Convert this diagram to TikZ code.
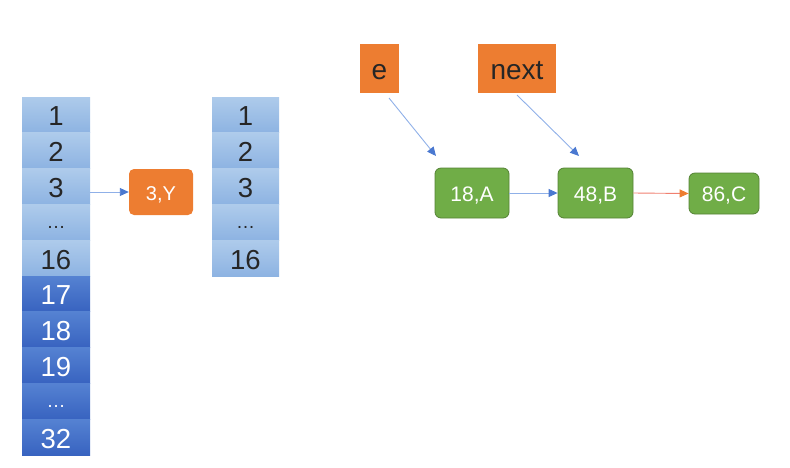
\documentclass[tikz,border=0pt]{standalone}
\usepackage{fontspec}
\setmainfont{Liberation Sans}
\usetikzlibrary{arrows.meta}
\definecolor{lbtop}{HTML}{AECBEB}
\definecolor{lbbot}{HTML}{8DB3E2}
\definecolor{dbtop}{HTML}{5582D2}
\definecolor{dbbot}{HTML}{3863C0}
\definecolor{orng}{HTML}{ED7D31}
\definecolor{grn}{HTML}{70AD47}
\definecolor{grnd}{HTML}{548235}
\definecolor{arrblue}{HTML}{4A78D0}
\definecolor{lineblue}{HTML}{8FB0E8}
\definecolor{redline}{HTML}{F08070}
\newcommand{\celldots}{{\fontsize{19}{19}\selectfont\raisebox{5pt}{\dots}}}
\tikzset{
  lcell/.style={minimum width=68pt, minimum height=35.8pt, inner sep=0pt, top color=lbtop, bottom color=lbbot, text=black!85, font=\fontsize{27.5}{27.5}\selectfont, text height=27.5pt, text depth=5.5pt},
  rcell/.style={lcell, minimum width=67pt},
  dcell/.style={lcell, top color=dbtop, bottom color=dbbot, text=white},
  obox/.style={fill=orng, inner sep=0pt, text=black!85, font=\fontsize{28}{28}\selectfont, text height=28pt, text depth=5.6pt},
  ybox/.style={fill=orng, rounded corners=5pt, inner sep=0pt, minimum width=64pt, minimum height=46pt, text=white, font=\fontsize{20}{20}\selectfont, text height=20pt, text depth=4pt},
  gbox/.style={fill=grn, draw=grnd, line width=0.8pt, rounded corners=6pt, inner sep=0pt, minimum height=50pt, text=white, font=\fontsize{21}{21}\selectfont, text height=21pt, text depth=4.2pt},
  barr/.style={draw=lineblue, line width=0.9pt, -{Triangle[length=9pt,width=8pt,fill=arrblue,color=arrblue]}},
  oarr/.style={draw=redline, line width=0.9pt, -{Triangle[length=9pt,width=8pt,fill=orng,color=orng]}}
}
\begin{document}
\begin{tikzpicture}[x=1pt,y=-1pt]
\useasboundingbox (0,0) rectangle (790,467);
% left column
\foreach \t [count=\i] in {1,2,3,\celldots,16}
  \node[lcell] (a\i) at (56, {97+35.8*(\i-0.5)}) {\t};
\foreach \t [count=\i from 6] in {17,18,19,\celldots,32}
  \node[dcell] (a\i) at (56, {97+35.8*(\i-0.5)}) {\t};
% right column
\foreach \t [count=\i] in {1,2,3,\celldots,16}
  \node[rcell] (b\i) at (245.5, {97+35.8*(\i-0.5)}) {\t};
% 3,Y
\node[ybox] (y) at (161, 192) {3,Y};
\draw[barr] (a3.east |- y.west) -- (y.west);
% pointers
\node[obox, minimum width=39pt, minimum height=49pt] (e) at (379.5, 68.5) {e};
\node[obox, minimum width=78pt, minimum height=49pt] (nx) at (517, 68.5) {next};
\node[gbox, minimum width=74pt] (A) at (472, 193) {18,A};
\node[gbox, minimum width=75pt] (B) at (595.5, 193) {48,B};
\node[gbox, minimum width=70pt, minimum height=41pt] (C) at (724, 193.5) {86,C};
\coordinate (es) at (389, 98);
\coordinate (ea) at (436, 156);
\coordinate (ns) at (517, 95);
\coordinate (na) at (579, 156);
\draw[barr] (es) -- (ea);
\draw[barr] (ns) -- (na);
\draw[barr] (A.east) -- (B.west);
\draw[oarr] (B.east) -- (C.west);
\end{tikzpicture}
\end{document}
